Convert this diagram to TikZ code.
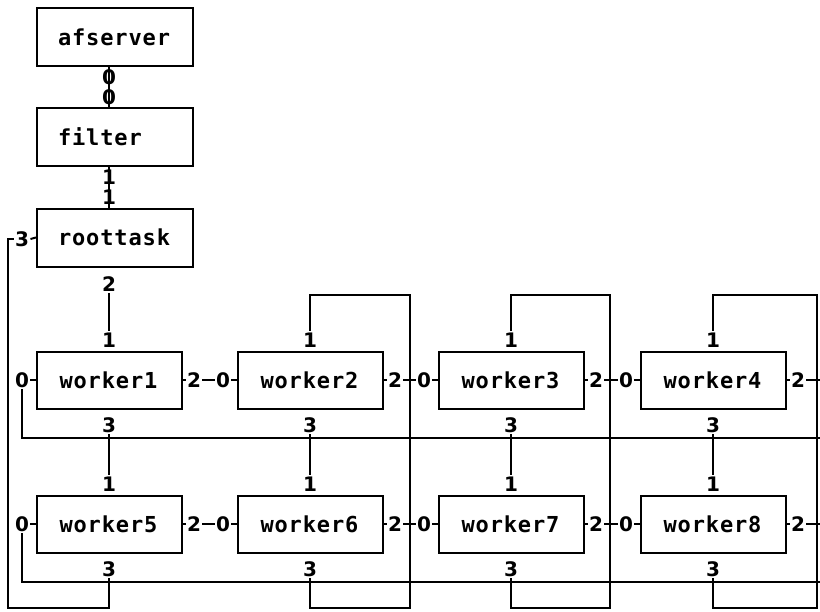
\documentclass[tikz,border=0pt]{standalone}
\usepackage{fontspec}
\newfontfamily\boxfont{DejaVu Sans Mono}[LetterSpace=4]
\newfontfamily\portfont{DejaVu Sans}
\begin{document}
\begin{tikzpicture}[x=1pt,y=-1pt,line width=2pt,
  box/.style={draw,rectangle,inner xsep=0pt,inner ysep=0pt,align=left,
    font=\boxfont\bfseries\fontsize{22}{22}\selectfont},
  tbox/.style={box,text width=156pt,minimum height=58pt},
  wbox/.style={box,text width=145pt,minimum height=57pt},
  port/.style={inner sep=0.5pt,font=\portfont\bfseries\fontsize{20}{20}\selectfont}]
\useasboundingbox (0,0) rectangle (820,611);
% top chain
\node[tbox] (af) at (115,37) {\hspace*{21pt}afserver};
\node[tbox] (fi) at (115,137) {\hspace*{21pt}filter};
\node[tbox] (rt) at (115,237.5) {\hspace*{21pt}roottask};
\node[port] (af0) at (109,77) {0};
\node[port] (fi0) at (109,97) {0};
\node[port] (fi1) at (109,177) {1};
\node[port] (rt1) at (109,197) {1};
\node[port] (rt2) at (109,284) {2};
\node[port] (rt3) at (22,239) {3};
\draw (af0 |- af.south) -- (fi0 |- fi.north);
\draw (fi1 |- fi.south) -- (rt1 |- rt.north);
\draw (rt.west) -- (rt3.east);
% workers
\foreach \i/\x/\y in {1/109/380,2/310/380,3/511/380,4/713/380,5/109/524,6/310/524,7/511/524,8/713/524}{
  \node[wbox] (w\i) at (\x,\y) {\hspace*{23pt}worker\i};
  \node[port] (w\i-0) at (\x-87,\y) {0};
  \node[port] (w\i-2) at (\x+85,\y) {2};
  \node[port] (w\i-1) at (\x,\y-40) {1};
  \node[port] (w\i-3) at (\x,\y+45) {3};
  \draw (w\i.west) -- (w\i-0.east);
  \draw (w\i.east) -- (w\i-2.west);
}
% horizontal links
\foreach \a/\b in {1/2,2/3,3/4,5/6,6/7,7/8}{
  \draw (w\a-2.east) -- (w\b-0.west);
}
% vertical links
\foreach \a/\b in {1/5,2/6,3/7,4/8}{
  \draw (w\a-3.south) -- (w\b-1.north);
}
\draw (rt2.south) -- (w1-1.north);
% row wrap-arounds
\coordinate (r1e) at (820,438);
\coordinate (r2e) at (820,582);
\coordinate (r1x) at (820,380);
\coordinate (r2x) at (820,524);
\draw (w1-0.south) |- (r1e);
\draw (w5-0.south) |- (r2e);
\draw (w4-2.east) -- (r1x);
\draw (w8-2.east) -- (r2x);
% column wrap-arounds
\foreach \a/\b/\xr in {2/6/410,3/7/610,4/8/817}{
  \coordinate (t\a) at (\xr,295);
  \coordinate (b\a) at (\xr,608);
  \draw (w\a-1.north) |- (t\a) -- (b\a) -| (w\b-3.south);
}
\coordinate (cb) at (8,608);
\draw (w5-3.south) |- (cb) |- (rt3.west);
\end{tikzpicture}
\end{document}
